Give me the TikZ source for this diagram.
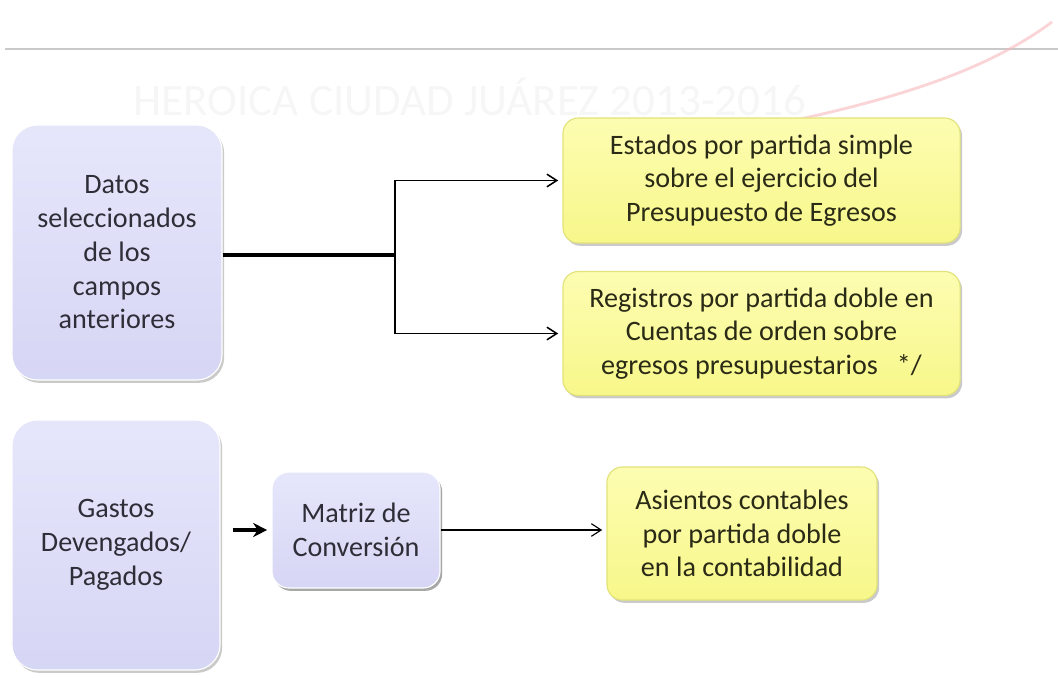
\documentclass[tikz,border=0pt]{standalone}
\usepackage{fontspec}
\setmainfont{Carlito}
\usetikzlibrary{arrows.meta,shadows}
\definecolor{ink}{HTML}{2E2E38}
\definecolor{olive}{HTML}{2A2A16}
\definecolor{lilac}{HTML}{D6D6F5}
\definecolor{lilactop}{HTML}{E6E6FB}
\definecolor{lemon}{HTML}{F7F78A}
\definecolor{lemontop}{HTML}{FDFDB2}
\definecolor{lemonrim}{HTML}{E2E27A}
\definecolor{rule}{HTML}{C9C9C9}
\definecolor{mark}{HTML}{F6F6F6}
\definecolor{swoosh}{HTML}{F6B8BC}

\begin{document}
\begin{tikzpicture}[
  x=0.025cm, y=-0.025cm,
  font=\fontsize{20}{24}\selectfont,
  base/.style={rounded corners=#1, align=center, inner sep=4pt,
               drop shadow={shadow xshift=1.5pt, shadow yshift=-2pt,
                            opacity=.35, fill=black!60}},
  base/.default=14pt,
  lilacbox/.style={base=18pt, draw=white, line width=.8pt,
                   top color=lilactop, bottom color=lilac, text=ink},
  lemonbox/.style={base=11pt, draw=lemonrim, line width=.8pt,
                   top color=lemontop, bottom color=lemon, text=olive},
  ar/.style={-{Straight Barb[length=7pt, width=9pt]}, draw=black, line width=1.1pt},
]
\useasboundingbox (0,0) rectangle (1058,677);

%% ================= watermark =================
\draw[rule, line width=1.5pt] (5,49) -- (1058,49);
\node[text=mark, font=\fontsize{32}{32}\selectfont] (wm) at (470,97)
  {HEROICA CIUDAD JUÁREZ 2013-2016};
\draw[swoosh, line width=2pt, opacity=.6] (590,158) .. controls (820,120) and (960,90) .. (1052,22);

%% ================= upper group =================
\node[lilacbox, minimum width=5.25cm, minimum height=6.375cm] (datos) at (117,252.5)
  {Datos\\seleccionados\\de los\\campos\\anteriores};
\node[lemonbox, minimum width=9.925cm, minimum height=3.125cm] (estados) at (761.5,180.5)
  {Estados por partida simple\\sobre el ejercicio del\\Presupuesto de Egresos};
\node[lemonbox, minimum width=9.925cm, minimum height=3.1cm] (registros) at (761.5,333.5)
  {Registros por partida doble en\\Cuentas de orden sobre\\egresos presupuestarios \ \ */};

\coordinate (split) at (395,255);
\draw[line width=2.4pt] (datos.east |- split) -- (split);
\draw[ar] (split) |- ([xshift=-3pt]estados.west);
\draw[ar] (split) |- ([xshift=-3pt]registros.west);

%% ================= lower group =================
\node[lilacbox, minimum width=5.2cm, minimum height=6.25cm] (gastos) at (116,545)
  {Gastos\\Devengados/\\Pagados};
\node[lilacbox, base=12pt, minimum width=4.2cm, minimum height=2.9cm] (matriz) at (356,530)
  {Matriz de\\Conversión};
\node[lemonbox, minimum width=6.75cm, minimum height=3.325cm] (asientos) at (742,533.5)
  {Asientos contables\\por partida doble\\en la contabilidad};

\draw[-{Stealth[length=10pt, width=10pt]}, line width=2.6pt, shorten <=8.5pt, shorten >=3pt]
  (gastos.east |- matriz.west) -- (matriz.west);
\draw[ar, line width=.8pt] (matriz.east) -- ([xshift=-3pt]matriz.east -| asientos.west);

\end{tikzpicture}
\end{document}
